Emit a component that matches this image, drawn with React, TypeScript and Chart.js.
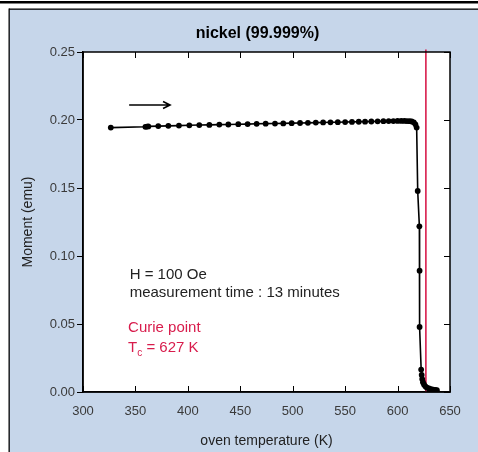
import React, { useEffect, useRef } from "react";
import { Chart, registerables } from "chart.js";

Chart.register(...registerables);

const TITLE = "nickel (99.999%)";
const X_TITLE = "oven temperature (K)";
const Y_TITLE = "Moment (emu)";
const X_MIN = 300;
const X_MAX = 650;
const X_STEP = 50;
const Y_MIN = 0;
const Y_MAX = 0.25;
const Y_STEP = 0.05;
const CURIE_T = 627;

const temperatures = [
  326.5, 359.5, 361, 362.3, 371.8, 381.4, 391.5, 401.4, 410.9, 420.5, 430, 438.6,
  448.1, 457, 465.6, 474.2, 483.1, 491, 499, 507, 514.5, 522, 529, 536, 543, 550,
  556.5, 563, 569, 575, 581, 586.5, 591.5, 596, 600, 603.5, 606.5, 609, 611.5,
  613.5, 615.5, 617, 618.2, 619.2, 620.8, 621, 621, 622.5, 623, 623.5, 624.2,
  625.2, 626.5, 628, 630, 632, 634, 636, 637.5,
];
const moments = [
  0.1944, 0.195, 0.1952, 0.1953, 0.1955, 0.1957, 0.1959, 0.1961, 0.1963, 0.1964,
  0.1966, 0.1967, 0.1969, 0.197, 0.1972, 0.1973, 0.1974, 0.1975, 0.1977, 0.1978,
  0.1979, 0.1981, 0.1982, 0.1983, 0.1984, 0.1985, 0.1986, 0.1987, 0.1988, 0.1989,
  0.199, 0.1991, 0.1992, 0.1992, 0.1993, 0.1993, 0.1993, 0.1992, 0.1991, 0.1989,
  0.1983, 0.1968, 0.1944, 0.1478, 0.1218, 0.0892, 0.0478, 0.0165, 0.0125, 0.0095,
  0.0072, 0.0055, 0.0042, 0.0032, 0.0026, 0.0021, 0.0018, 0.0015, 0.0013,
];

const ARROW_X = [344, 383];
const ARROW_Y = 0.211;
const NOTE_LINES = ["H = 100 Oe", "measurement time : 13 minutes"];
const CURIE_LABEL = "Curie point";
const CURIE_SYMBOL = "T";
const CURIE_SUB = "c";
const CURIE_VALUE = " = 627 K";

const FONT = '"Liberation Sans", Arial, Helvetica, sans-serif';
const PANEL = "#c6d6ea";
const RED = "#d81c4c";
const LABEL_GRAY = "#3a3a3a";

const figurePlugin = {
  id: "figure",
  beforeDraw(chart: any) {
    const { ctx, width, height, chartArea: a } = chart;
    ctx.save();
    ctx.fillStyle = "#ffffff";
    ctx.fillRect(0, 0, width, height);
    ctx.fillStyle = "#000";
    ctx.fillRect(0, 1, width, 2.5);
    ctx.fillStyle = PANEL;
    ctx.fillRect(9, 9, width - 9, height - 9);
    ctx.fillStyle = "#000";
    ctx.fillRect(9, 8.5, width - 9, 1.3);
    ctx.fillRect(8.5, 8.5, 1.3, height - 8.5);
    ctx.fillStyle = "#ffffff";
    ctx.fillRect(a.left, a.top, a.right - a.left, a.bottom - a.top);
    ctx.fillStyle = "#000";
    ctx.font = `bold 16px ${FONT}`;
    ctx.textAlign = "center";
    ctx.textBaseline = "middle";
    ctx.fillText(TITLE, 257.5, 34);
    ctx.restore();
  },
  beforeDatasetsDraw(chart: any) {
    const { ctx, chartArea: a, scales } = chart;
    const x = scales.x.getPixelForValue(CURIE_T);
    ctx.save();
    ctx.strokeStyle = RED;
    ctx.lineWidth = 1.6;
    ctx.beginPath();
    ctx.moveTo(x, a.top - 2.5);
    ctx.lineTo(x, a.bottom);
    ctx.stroke();
    ctx.restore();
  },
  afterDatasetsDraw(chart: any) {
    const { ctx, chartArea: a, scales } = chart;
    const xs = scales.x;
    const ys = scales.y;
    ctx.save();
    ctx.strokeStyle = "#000";
    ctx.lineWidth = 1.5;
    ctx.strokeRect(a.left, a.top, a.right - a.left, a.bottom - a.top);
    ctx.lineWidth = 1;
    ctx.beginPath();
    xs.ticks.forEach((t: any) => {
      const px = Math.round(xs.getPixelForValue(t.value)) + 0.5;
      ctx.moveTo(px, a.bottom);
      ctx.lineTo(px, a.bottom - 6);
      ctx.moveTo(px, a.top);
      ctx.lineTo(px, a.top + 6);
    });
    ys.ticks.forEach((t: any) => {
      const py = Math.round(ys.getPixelForValue(t.value)) + 0.5;
      ctx.moveTo(a.right, py);
      ctx.lineTo(a.right - 6, py);
    });
    ctx.stroke();

    // arrow
    const ax0 = xs.getPixelForValue(ARROW_X[0]);
    const ax1 = xs.getPixelForValue(ARROW_X[1]);
    const ay = ys.getPixelForValue(ARROW_Y);
    ctx.lineWidth = 1.6;
    ctx.beginPath();
    ctx.moveTo(ax0, ay);
    ctx.lineTo(ax1, ay);
    ctx.moveTo(ax1 - 7, ay - 3.5);
    ctx.lineTo(ax1, ay);
    ctx.lineTo(ax1 - 7, ay + 3.5);
    ctx.stroke();

    // notes
    ctx.textAlign = "left";
    ctx.textBaseline = "middle";
    ctx.font = `15px ${FONT}`;
    ctx.fillStyle = "#222";
    const nx = xs.getPixelForValue(344.5);
    ctx.fillText(NOTE_LINES[0], nx, ys.getPixelForValue(0.0858));
    ctx.fillText(NOTE_LINES[1], nx, ys.getPixelForValue(0.0726));
    ctx.fillStyle = RED;
    const cx = xs.getPixelForValue(343);
    ctx.fillText(CURIE_LABEL, cx, ys.getPixelForValue(0.0468));
    const ty = ys.getPixelForValue(0.0322);
    ctx.fillText(CURIE_SYMBOL, cx, ty);
    const tw = ctx.measureText(CURIE_SYMBOL).width;
    ctx.font = `10px ${FONT}`;
    ctx.fillText(CURIE_SUB, cx + tw, ty + 5);
    const sw = ctx.measureText(CURIE_SUB).width;
    ctx.font = `15px ${FONT}`;
    ctx.fillText(CURIE_VALUE, cx + tw + sw, ty);
    ctx.restore();
  },
};

export default function App() {
  const ref = useRef<HTMLCanvasElement>(null);
  useEffect(() => {
    document.body.style.margin = "0";
    const canvas = ref.current!;
    const chart = new Chart(canvas, {
      type: "line",
      data: {
        datasets: [
          {
            data: temperatures.map((t, i) => ({ x: t, y: moments[i] })),
            borderColor: "#000",
            backgroundColor: "#000",
            borderWidth: 1.6,
            pointRadius: 2.9,
            pointBorderWidth: 0,
            pointBackgroundColor: "#000",
            tension: 0,
            fill: false,
          },
        ],
      },
      options: {
        animation: false,
        responsive: false,
        devicePixelRatio: 1,
        layout: { padding: { top: 52, right: 28, left: 0, bottom: 0 } },
        plugins: {
          legend: { display: false },
          title: { display: false },
          tooltip: { enabled: false },
        },
        scales: {
          x: {
            type: "linear",
            min: X_MIN,
            max: X_MAX,
            afterFit: (s: any) => {
              s.height = 60;
            },
            ticks: {
              stepSize: X_STEP,
              padding: 12,
              color: LABEL_GRAY,
              font: { family: FONT, size: 13 },
              maxRotation: 0,
            },
            grid: { drawOnChartArea: false, drawTicks: false },
            border: { display: true, color: "#000", width: 1.5 },
            title: {
              display: true,
              text: X_TITLE,
              color: "#222",
              font: { family: FONT, size: 14 },
              padding: { top: 0, bottom: 2.6 },
            },
          },
          y: {
            type: "linear",
            min: Y_MIN,
            max: Y_MAX,
            afterFit: (s: any) => {
              s.width = 83;
            },
            ticks: {
              stepSize: Y_STEP,
              padding: 2,
              color: LABEL_GRAY,
              font: { family: FONT, size: 13 },
              callback: (v: any) => Number(v).toFixed(2),
            },
            grid: {
              drawOnChartArea: false,
              drawTicks: true,
              tickLength: 6,
              color: "#000",
              lineWidth: 1,
            },
            border: { display: true, color: "#000", width: 1.5 },
            title: {
              display: true,
              text: Y_TITLE,
              color: "#222",
              font: { family: FONT, size: 14 },
              padding: { top: 19.6, bottom: 0 },
            },
          },
        },
      },
      plugins: [figurePlugin],
    } as any);
    return () => chart.destroy();
  }, []);
  return (
    <canvas
      ref={ref}
      width={478}
      height={452}
      style={{ display: "block", width: 478, height: 452 }}
    />
  );
}
